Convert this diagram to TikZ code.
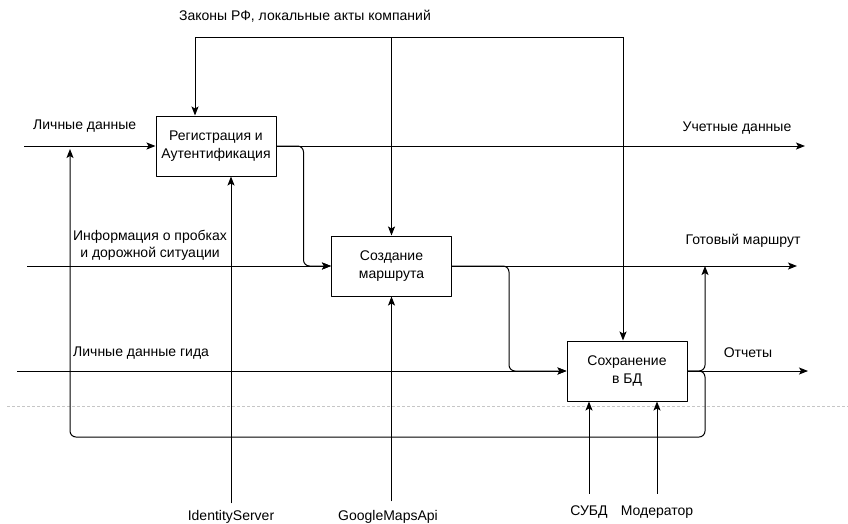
\documentclass[tikz,border=0pt]{standalone}
\usepackage{fontspec}
\setmainfont{Liberation Sans}
\usetikzlibrary{arrows.meta, positioning, calc}

\begin{document}
\begin{tikzpicture}[x=1pt, y=-1pt, >={Stealth[length=9pt, width=7pt, inset=2pt]}, line join=round]
	\def\fbx{705}
	\def\loopy{437}
	
	\tikzset{
		func/.style={draw, line width=1pt, minimum width=120pt, minimum height=60pt, align=center, inner sep=2pt, font=\fontsize{14}{18}\selectfont},
		lbl/.style={inner sep=0pt, align=center, font=\fontsize{14}{17}\selectfont},
		flow/.style={line width=1pt, ->},
		turnflow/.style={flow, rounded corners=6pt},
		pagebrk/.style={gray!45, line width=0.6pt, dash pattern=on 3pt off 2pt}
	}
	
	\useasboundingbox (0,0) rectangle (848,523);
	
	\draw[pagebrk] (7,406) -- (848,406);
	
	% functions
	\node[func] (reg)   at (216,146)   {Регистрация и\\Аутентификация};
	\node[func] (route) at (391.5,266) {Создание\\маршрута};
	\node[func] (save)  at (627,371)   {Сохранение\\в БД};
	
	% free ends
	\coordinate (lawL) at (195,37);
	\coordinate (lawR) at (623,37);
	\coordinate (in1)  at (24,146);
	\coordinate (in2)  at (27,266);
	\coordinate (in3)  at (17,371);
	\coordinate (out1) at (805,146);
	\coordinate (out2) at (797,266);
	\coordinate (out3) at (808,371);
	\coordinate (fbD)  at (\fbx,\loopy);
	\coordinate (fbU)  at (\fbx,266);
	\coordinate (loopEnd) at (70,149);
	
	% labels
	\node[lbl] (law)   at (305,16)  {Законы РФ, локальные акты компаний};
	\node[lbl, anchor=west] (pers)  at (33,126)  {Личные данные};
	\node[lbl] (traffic) at (150,245) {Информация о пробках\\и дорожной ситуации};
	\node[lbl, anchor=west] (guide) at (73,353)  {Личные данные гида};
	\node[lbl] (acc)   at (737,128) {Учетные данные};
	\node[lbl] (ready) at (743,241) {Готовый маршрут};
	\node[lbl] (rep)   at (748,353) {Отчеты};
	\node[lbl] (ids)   at (231,517) {IdentityServer};
	\node[lbl] (gmaps) at (388,517) {GoogleMapsApi};
	\node[lbl] (dbms)  at (589,512) {СУБД};
	\node[lbl] (moder) at (657,512) {Модератор};
	
	% controls
	\draw[flow] (lawR) -- (lawL) -- (lawL |- reg.north);
	\draw[flow] (route.north |- lawR) -- (route.north);
	\draw[flow] (lawR) -- (lawR |- save.north);
	
	% inputs and outputs
	\draw[flow] (in1) -- (reg.west);
	\draw[flow] (in2) -- (route.west);
	\draw[flow] (in3) -- (save.west);
	\draw[flow] (reg.east) -- (out1);
	\draw[flow] (route.east) -- (out2);
	\draw[flow] (save.east) -- (out3);
	
	\draw[turnflow] (reg.east) -- ++(27,0) |- (route.west);
	\draw[turnflow] (route.east) -- ++(57,0) |- (save.west);
	\draw[turnflow] (save.east) -| (fbU);
	\draw[turnflow] (save.east) -| (fbD) -| (loopEnd);
	
	% mechanisms
	\draw[flow] ([yshift=7pt]ids.north) -- (ids.north |- reg.south);
	\draw[flow] ([yshift=9pt]route.south |- gmaps.north) -- (route.south);
	\draw[flow] ([yshift=12pt]dbms.north) -- (dbms.north |- save.south);
	\draw[flow] ([yshift=12pt]moder.north) -- (moder.north |- save.south);
\end{tikzpicture}
\end{document}
